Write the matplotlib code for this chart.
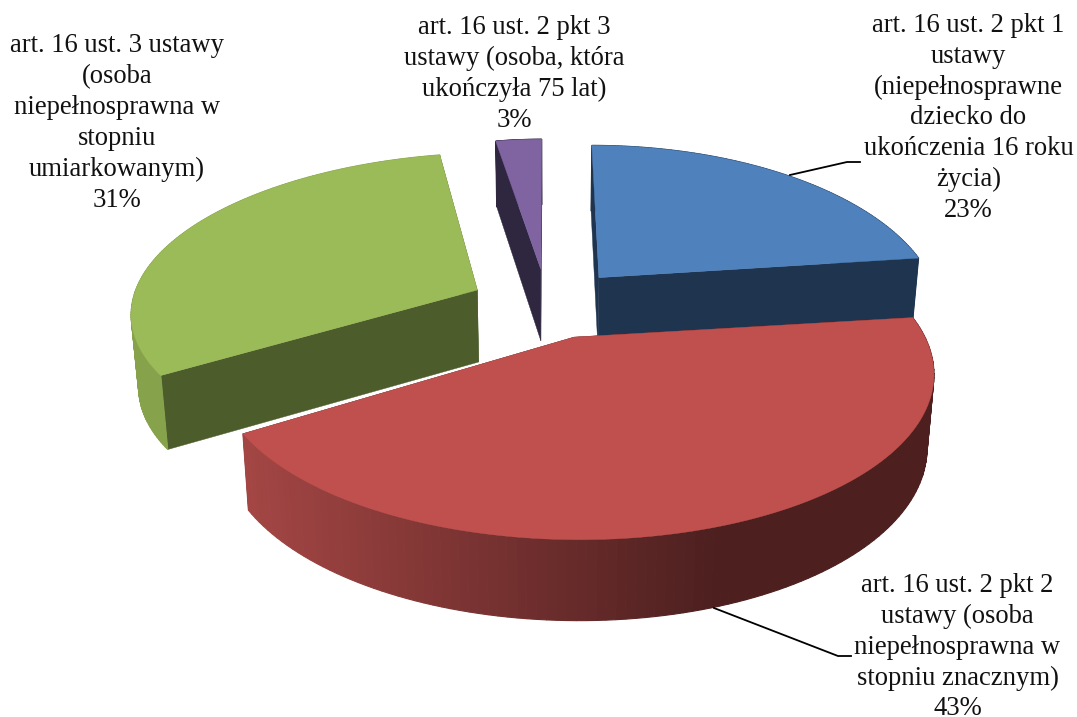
import numpy as np
import matplotlib
matplotlib.use('Agg')
import matplotlib.pyplot as plt
from matplotlib.colors import to_rgb
from matplotlib.patches import Polygon

# slices run clockwise from the top
labels = [
    'art. 16 ust. 2 pkt 1\nustawy\n(niepełnosprawne\ndziecko do\nukończenia 16 roku\nżycia)\n23%',
    'art. 16 ust. 2 pkt 2\nustawy (osoba\nniepełnosprawna w\nstopniu znacznym)\n43%',
    'art. 16 ust. 3 ustawy\n(osoba\nniepełnosprawna w\nstopniu\numiarkowanym)\n31%',
    'art. 16 ust. 2 pkt 3\nustawy (osoba, która\nukończyła 75 lat)\n3%',
]
shares = [23, 43, 31, 3]
top_colors = ['#4f81bd', '#c0504d', '#9bbb59', '#8064a2']
cut_colors = ['#1f344f', '#4d1f1f', '#4c5c2b', '#2f2640']
wall_left = ['#1f344f', '#a34644', '#86a24b', '#2f2640']
wall_right = ['#1f344f', '#4d1f1f', '#86a24b', '#2f2640']
# per slice fudge, the original's perspective is not a clean ellipse
persp = [0.21, 0.21, 0.10, 0.21]
squash = [160, 160, 151, 157]
widen = [1.0, 1.0, 1.018, 0.9]
shear = [0, 0, 16, 0]

CX, CY = 548, 304      # pie centre on the page
RADIUS = 340
DEPTH_SCALE = 0.15     # slices pushed back get narrower
EXPLODE = 77
THICK = 72
SHRINK = 0.982         # the underside is further from the camera


def underside(px, py, s):
    return CX + (px - CX) * SHRINK, py + THICK * np.sqrt(s)


def draw_slice(ax, start, stop, i):
    mid = (start + stop) / 2
    ox = CX + EXPLODE * np.sin(mid)
    oy = CY - EXPLODE * 160 / 350 * np.cos(mid)
    theta = np.linspace(start, stop, 120)

    # theta is clockwise from the top
    x, y = np.sin(theta), np.cos(theta)
    s = 1 / (1 + persp[i] * y)
    r = widen[i] * RADIUS / (1 + DEPTH_SCALE * 0.22 * np.cos(mid))
    px = ox + x * r * s + 0.8 * (ox - CX) * (s - 1) + shear[i] * y
    py = oy - y * squash[i] * s
    bx, by = underside(px, py, s)
    ax_, ay_ = underside(ox, oy, 1.0)

    # cut faces
    for k in (0, -1):
        ax.add_patch(Polygon([(ox, oy), (px[k], py[k]), (bx[k], by[k]), (ax_, ay_)],
                             fc=cut_colors[i], ec=cut_colors[i], lw=0.3))
    # outer wall, shaded left to right
    c0, c1 = np.array(to_rgb(wall_left[i])), np.array(to_rgb(wall_right[i]))
    for k in range(len(theta) - 1):
        t = np.clip((px[k] - 250) / 470, 0, 1)
        col = c0 + (c1 - c0) * t
        ax.add_patch(Polygon([(px[k], py[k]), (px[k + 1], py[k + 1]),
                              (bx[k + 1], by[k + 1]), (bx[k], by[k])],
                             fc=col, ec=col, lw=0.8))
    # top
    ax.add_patch(Polygon(np.column_stack([np.r_[ox, px], np.r_[oy, py]]),
                         fc=top_colors[i], ec=top_colors[i], lw=0.3))


fig = plt.figure(figsize=(10.77, 7.17), dpi=100)
ax = fig.add_axes([0, 0, 1, 1])
ax.set_xlim(0, 1077)
ax.set_ylim(717, 0)
ax.axis('off')

edges = np.r_[0, np.cumsum(shares)] / np.sum(shares) * 2 * np.pi
for i in (3, 2, 0, 1):
    draw_slice(ax, edges[i], edges[i + 1], i)

ax.plot([790, 847, 860], [175, 162, 162], color='black', lw=1.3, zorder=5)
ax.plot([714, 838, 851], [608, 656, 656], color='black', lw=1.3, zorder=5)

text_style = dict(ha='center', va='center', multialignment='center',
                  family='Liberation Serif', fontsize=19.2, linespacing=1.31, color='#111111')
ax.text(968.5, 118, labels[0], **text_style)
ax.text(957.5, 647, labels[1], **text_style)
ax.text(117, 123, labels[2], **text_style)
ax.text(514, 74, labels[3], **text_style)

fig.savefig('out.png', dpi=100, facecolor='white')
